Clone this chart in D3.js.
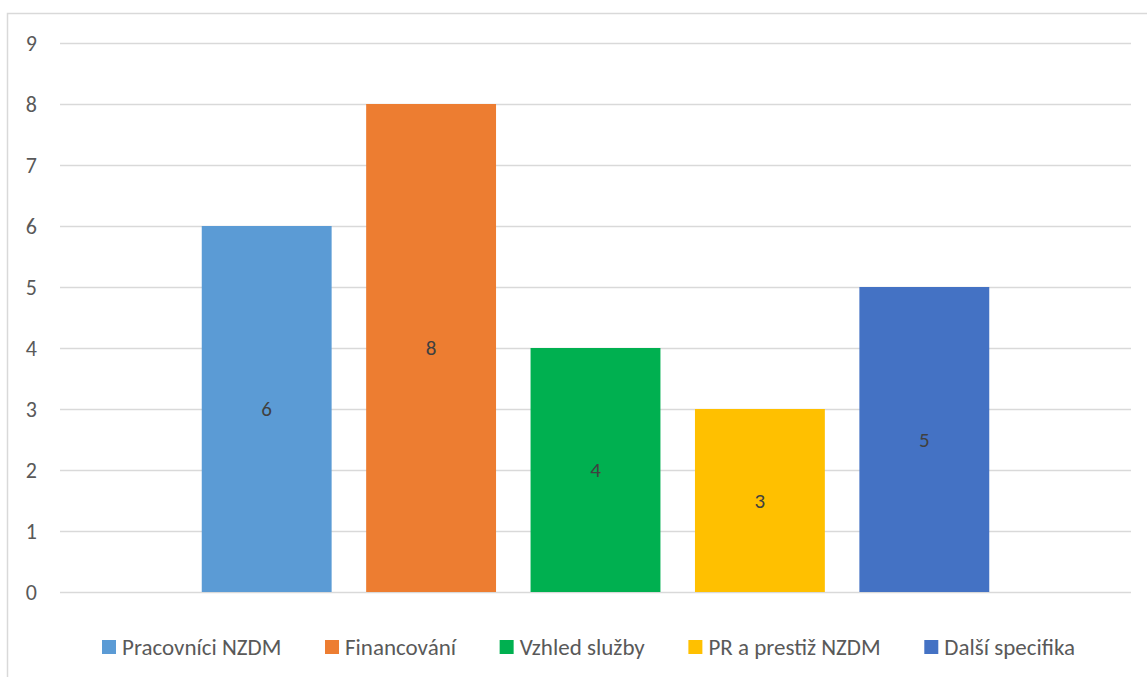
<!DOCTYPE html>
<html><head><meta charset="utf-8">
<script src="https://cdn.jsdelivr.net/npm/d3@7"></script>
<style>body{margin:0;background:#fff}svg{display:block}text{font-family:Calibri,Carlito,"Open Sans","Liberation Sans",sans-serif}</style>
</head><body><svg id="c" width="1147" height="677"></svg>
<script>
const series = ["Pracovníci NZDM","Financování","Vzhled služby","PR a prestiž NZDM","Další specifika"];
const values = [6,8,4,3,5];
const colors = ["#5B9BD5","#ED7D31","#00B050","#FFC000","#4472C4"];
const yTicks = [0,1,2,3,4,5,6,7,8,9];

const svg = d3.select("#c");
const W=1147,H=677;
svg.append("rect").attr("x",7.5).attr("y",13.5).attr("width",W).attr("height",H).attr("fill","none").attr("stroke","#d9d9d9").attr("stroke-width",1.5);

const x0=60,x1=1131;
const y = d3.scaleLinear().domain([0,9]).range([592,43]);
const outer = d3.scaleBand().domain(["g"]).range([x0,x1]).paddingInner(0).paddingOuter(0.18);
const x = d3.scaleBand().domain(series).range([outer("g"), outer("g")+outer.bandwidth()]).paddingInner(0.21).paddingOuter(0);

const yAxis = d3.axisLeft(y).tickValues(yTicks).tickSize(-(x1-x0)).tickFormat(d3.format("d"));
const ga = svg.append("g").attr("transform",`translate(${x0},0)`).call(yAxis);
ga.select(".domain").remove();
ga.selectAll(".tick line").attr("stroke","#d9d9d9").attr("stroke-width",1.5);
ga.selectAll(".tick text").attr("x",-23).attr("fill","#595959").attr("font-size",22);

svg.append("g").selectAll("rect").data(values).join("rect")
 .attr("x",(d,i)=>x(series[i])).attr("width",x.bandwidth())
 .attr("y",d=>y(d)).attr("height",d=>y(0)-y(d)).attr("fill",(d,i)=>colors[i]);
svg.append("g").selectAll("text").data(values).join("text")
 .attr("x",(d,i)=>x(series[i])+x.bandwidth()/2).attr("y",d=>(y(d)+y(0))/2)
 .attr("dy","0.35em").attr("text-anchor","middle").attr("font-size",21).attr("fill","#404040").text(d=>d);

// legend
const lg = svg.append("g");
const items = lg.selectAll("g").data(series).join("g");
items.append("rect").attr("width",14).attr("height",14).attr("y",-7).attr("fill",(d,i)=>colors[i]);
items.append("text").attr("x",20).attr("dy","0.35em").attr("font-size",23).attr("fill","#595959").text(d=>d);
const widths = []; items.each(function(){widths.push(20+d3.select(this).select("text").node().getComputedTextLength());});
const L=102,R=1075;
const gap = (R-L - d3.sum(widths))/(series.length-1);
let cx=L;
items.each(function(d,i){d3.select(this).attr("transform",`translate(${cx},647)`); cx+=widths[i]+gap;});
</script></body></html>
